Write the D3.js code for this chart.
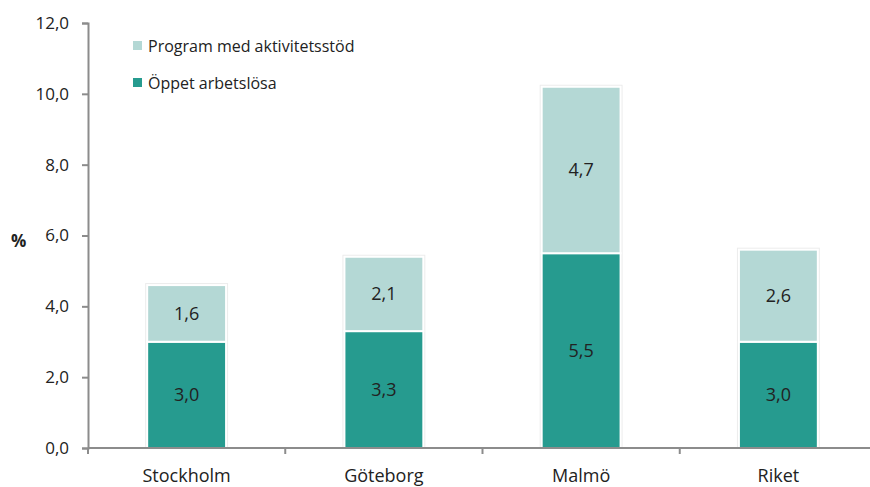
<!DOCTYPE html>
<html>
<head>
<meta charset="utf-8">
<script src="https://cdn.jsdelivr.net/npm/d3@7"></script>
<style>
  body { margin: 0; background: #fff; }
  svg text { font-family: "Open Sans", sans-serif; fill: #222; }
</style>
</head>
<body>
<div id="chart"></div>
<script>
// Data
var categories = ["Stockholm", "Göteborg", "Malmö", "Riket"];
var oppet = [3.0, 3.3, 5.5, 3.0];
var program = [1.6, 2.1, 4.7, 2.6];
var seriesNames = ["Öppet arbetslösa", "Program med aktivitetsstöd"];
var yTicks = [0, 2, 4, 6, 8, 10, 12];

var width = 870, height = 487;
var colors = ["#269b8f", "#b4d8d5"];
var fmt = function(d) { return d3.format(".1f")(d).replace(".", ","); };
var x0 = 88, x1 = 877;

var svg = d3.select("#chart").append("svg")
  .attr("width", width)
  .attr("height", height);

var x = d3.scaleBand()
  .domain(categories)
  .range([x0, x1])
  .paddingInner(0.6)
  .paddingOuter(0.3);

var y = d3.scaleLinear()
  .domain([0, 12])
  .range([448, 23]);

// stacked
var rows = categories.map(function(c, i) { return { cat: c, a: oppet[i], b: program[i] }; });
var stack = d3.stack().keys(["a", "b"])(rows);

// faint shadow behind each bar
svg.append("g")
  .selectAll("rect")
  .data(rows)
  .enter().append("rect")
  .attr("x", function(d) { return x(d.cat) - 2; })
  .attr("width", x.bandwidth() + 4)
  .attr("y", function(d) { return y(d.a + d.b) - 2; })
  .attr("height", function(d) { return y(0) - y(d.a + d.b) + 2; })
  .style("fill", "#ececec");

var layers = svg.selectAll(".layer")
  .data(stack)
  .enter().append("g")
  .attr("class", "layer")
  .style("fill", function(d, i) { return colors[i]; });

layers.selectAll("rect")
  .data(function(d) { return d; })
  .enter().append("rect")
  .attr("x", function(d) { return x(d.data.cat); })
  .attr("width", x.bandwidth())
  .attr("y", function(d) { return y(d[1]); })
  .attr("height", function(d) { return y(d[0]) - y(d[1]); })
  .style("stroke", "#fff")
  .style("stroke-width", 2);

// value labels
layers.selectAll("text")
  .data(function(d) { return d; })
  .enter().append("text")
  .attr("x", function(d) { return x(d.data.cat) + x.bandwidth() / 2; })
  .attr("y", function(d) { return (y(d[0]) + y(d[1])) / 2; })
  .attr("dy", "0.36em")
  .style("text-anchor", "middle")
  .style("font-size", "18px")
  .text(function(d) { return fmt(d[1] - d[0]); });

// y axis
var yAxis = svg.append("g")
  .attr("transform", "translate(" + x0 + ",0)")
  .call(d3.axisLeft(y).tickValues(yTicks).tickSize(6).tickSizeOuter(6).tickPadding(13).tickFormat(fmt));
yAxis.selectAll("text").style("font-size", "17px").style("fill", "#222");

// x axis
var xAxis = svg.append("g")
  .attr("transform", "translate(0,448)");
xAxis.append("line")
  .attr("x1", x0).attr("x2", x1)
  .attr("y1", 0).attr("y2", 0);
xAxis.selectAll(".tk")
  .data(d3.range(categories.length + 1))
  .enter().append("line")
  .attr("class", "tk")
  .attr("x1", function(i) { return x0 + i * x.step(); })
  .attr("x2", function(i) { return x0 + i * x.step(); })
  .attr("y1", 0).attr("y2", 6);
xAxis.selectAll("text")
  .data(categories)
  .enter().append("text")
  .attr("x", function(d) { return x(d) + x.bandwidth() / 2; })
  .attr("y", 34)
  .style("text-anchor", "middle")
  .style("font-size", "18px")
  .text(function(d) { return d; });

svg.selectAll(".domain, .tick line, g line")
  .style("stroke", "#8c8c8c")
  .style("stroke-width", 2);

// % label
svg.append("text")
  .attr("x", 11).attr("y", 247)
  .style("font-size", "17px")
  .style("font-weight", "bold")
  .text("%");

// Legend
var legend = svg.append("g").attr("transform", "translate(133,0)");
var legendItems = [{ name: seriesNames[1], color: colors[1], y: 46 }, { name: seriesNames[0], color: colors[0], y: 83 }];
legend.selectAll("rect")
  .data(legendItems)
  .enter().append("rect")
  .attr("x", 0)
  .attr("y", function(d) { return d.y - 5; })
  .attr("width", 9).attr("height", 9)
  .style("fill", function(d) { return d.color; });
legend.selectAll("text")
  .data(legendItems)
  .enter().append("text")
  .attr("x", 15)
  .attr("y", function(d) { return d.y; })
  .attr("dy", "0.36em")
  .style("font-size", "16px")
  .text(function(d) { return d.name; });
</script>
</body>
</html>
